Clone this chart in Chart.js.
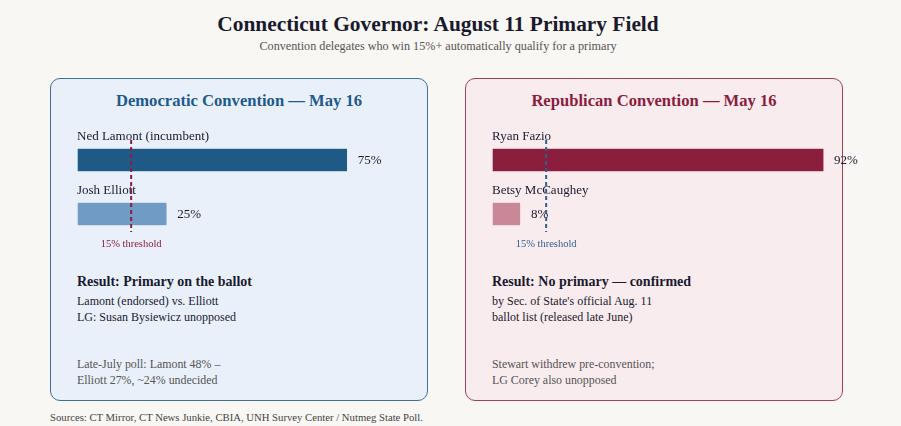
<!DOCTYPE html>
<html>
  <head>
    <title>Connecticut Governor Primary Field</title>
    <script src="https://cdn.jsdelivr.net/npm/chart.js"></script>
    <style>
      body { margin: 0; background: #f9f7f3; font-family: Georgia, "Liberation Serif", serif; color: #1a1a2e; }
      .pagina { position: relative; width: 901px; height: 426px; overflow: hidden; }
      .titulo { position: absolute; left: 0; width: 876px; top: 12px; text-align: center; font-size: 21.4px; font-weight: bold; }
      .subtitulo { position: absolute; left: 0; width: 876px; top: 39px; text-align: center; font-size: 12.2px; color: #555; }
      .painel { position: absolute; top: 78px; width: 376px; height: 321px; border-radius: 10px; }
      .dem { left: 50px; background: #e9f0fa; border: 1.5px solid #3f6f99; }
      .rep { left: 465px; background: #f9ecee; border: 1.5px solid #a3405e; }
      .painel h2 { margin: 0; position: absolute; top: 12px; left: 0; width: 100%; text-align: center; font-size: 16.6px; }
      .dem h2 { color: #1f5a8a; }
      .rep h2 { color: #8b1e3f; }
      .resultado { position: absolute; left: 26px; top: 195px; font-size: 12px; line-height: 16px; }
      .resultado b { font-size: 14px; display: block; margin-bottom: 3px; }
      .nota { position: absolute; left: 26px; top: 277px; font-size: 11.9px; line-height: 16px; color: #555; }
      .grafico { position: absolute; top: 120px; width: 420px; height: 135px; }
      .fonte { position: absolute; left: 50px; top: 411px; font-size: 10.7px; color: #444; }
    </style>
  </head>

  <body>
    <div class="pagina">
      <div class="titulo">Connecticut Governor: August 11 Primary Field</div>
      <div class="subtitulo">Convention delegates who win 15%+ automatically qualify for a primary</div>

      <div class="painel dem">
        <h2>Democratic Convention — May 16</h2>
        <div class="resultado"><b>Result: Primary on the ballot</b>Lamont (endorsed) vs. Elliott<br>LG: Susan Bysiewicz unopposed</div>
        <div class="nota">Late-July poll: Lamont 48% –<br>Elliott 27%, ~24% undecided</div>
      </div>
      <div class="painel rep">
        <h2>Republican Convention — May 16</h2>
        <div class="resultado"><b>Result: No primary — confirmed</b>by Sec. of State's official Aug. 11<br>ballot list (released late June)</div>
        <div class="nota">Stewart withdrew pre-convention;<br>LG Corey also unopposed</div>
      </div>

      <div class="grafico" style="left: 77px;"><canvas id="graficoDem"></canvas></div>
      <div class="grafico" style="left: 492px;"><canvas id="graficoRep"></canvas></div>

      <div class="fonte">Sources: CT Mirror, CT News Junkie, CBIA, UNH Survey Center / Nutmeg State Poll.</div>
    </div>

    <script>
      // dados
      var candidatosDem = ["Ned Lamont (incumbent)", "Josh Elliott"];
      var votosDem = [75, 25];
      var candidatosRep = ["Ryan Fazio", "Betsy McCaughey"];
      var votosRep = [92, 8];
      var limite = 15;

      var fonte = 'Georgia, "Liberation Serif", serif';

      // nomes acima das barras, valores, linha de 15%
      var rotulos = {
        id: "rotulos",
        afterDatasetsDraw(grafico, args, opcoes) {
          var ctx = grafico.ctx;
          var area = grafico.chartArea;
          var barras = grafico.getDatasetMeta(0).data;
          var nomes = grafico.data.labels;
          var valores = grafico.data.datasets[0].data;

          ctx.save();
          ctx.textBaseline = "middle";
          barras.forEach((barra, i) => {
            ctx.fillStyle = "#1a1a2e";
            ctx.font = "13px " + fonte;
            ctx.textAlign = "left";
            ctx.fillText(nomes[i], area.left, barra.y - 23);
            ctx.fillText(valores[i] + "%", barra.x + 10, barra.y + 1);
          });

          var x = grafico.scales.x.getPixelForValue(limite);
          ctx.strokeStyle = opcoes.cor;
          ctx.lineWidth = 2;
          ctx.setLineDash([4, 3]);
          ctx.beginPath();
          ctx.moveTo(x, area.top + 7);
          ctx.lineTo(x, area.bottom - 9);
          ctx.stroke();

          ctx.fillStyle = opcoes.cor;
          ctx.font = "10.5px " + fonte;
          ctx.textAlign = "center";
          ctx.fillText(limite + "% threshold", x, area.bottom + 3);
          ctx.restore();
        },
      };

      function criarGrafico(id, nomes, valores, cores, corLimite) {
        return new Chart(document.getElementById(id).getContext("2d"), {
          type: "bar",
          data: {
            labels: nomes,
            datasets: [
              {
                data: valores,
                backgroundColor: cores,
                borderColor: "rgba(255,255,255,0.45)",
                borderWidth: 1,
                borderSkipped: false,
                barThickness: 24,
              },
            ],
          },
          options: {
            indexAxis: "y",
            responsive: true,
            maintainAspectRatio: false,
            animation: false,
            layout: { padding: { left: 0, right: 59, top: 13, bottom: 14 } },
            scales: {
              x: { display: false, min: 0, max: 100 },
              y: { display: false },
            },
            plugins: {
              legend: { display: false },
              tooltip: { enabled: false },
              rotulos: { cor: corLimite },
            },
          },
          plugins: [rotulos],
        });
      }

      criarGrafico("graficoDem", candidatosDem, votosDem, ["#1f5a87", "#6f9bc4"], "#8b1e3f");
      criarGrafico("graficoRep", candidatosRep, votosRep, ["#8b1d3d", "#c98898"], "#2f5f8f");
    </script>
  </body>
</html>
